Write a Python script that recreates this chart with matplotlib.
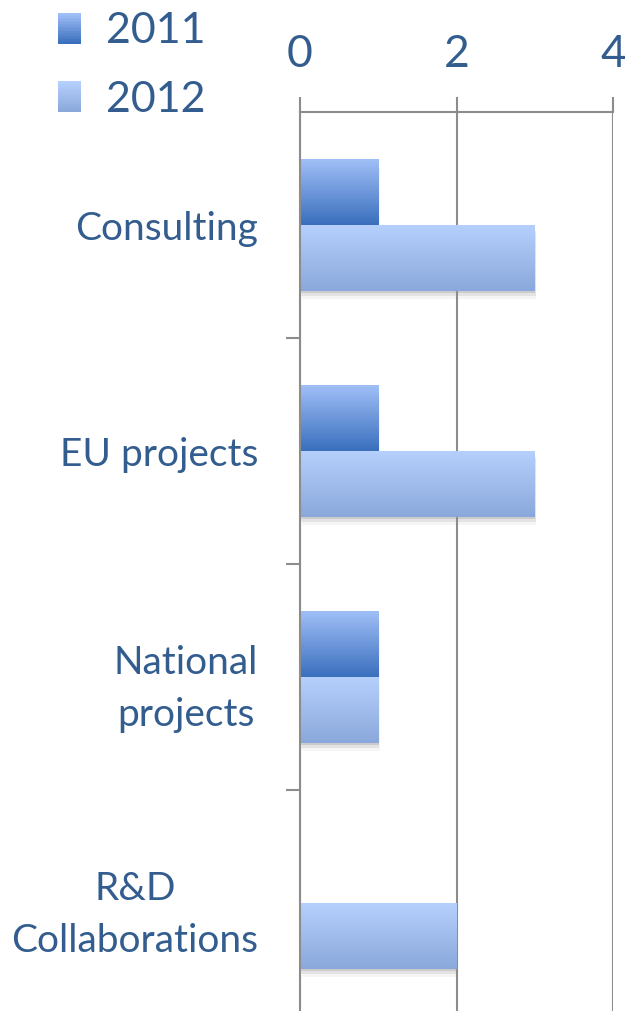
import numpy as np
import matplotlib
matplotlib.use('Agg')
import matplotlib.pyplot as plt
from matplotlib.colors import LinearSegmentedColormap
from matplotlib.patches import Rectangle
from matplotlib.legend_handler import HandlerBase

plt.rcParams['font.family'] = ['Lato', 'DejaVu Sans']

# data
categories = ['Consulting', 'EU projects', 'National\nprojects', 'R&D\nCollaborations']
values_2011 = [1, 1, 1, 0]
values_2012 = [3, 3, 1, 2]
series_names = ['2011', '2012']

text_color = '#335d8f'
grid_color = '#8c8c8c'
# gradient top -> bottom
grad_2011 = ['#a0bff7', '#3a6fbd']
grad_2012 = ['#b6d0fd', '#8aa8db']

fig = plt.figure(figsize=(6.25, 10.11), dpi=100)
ax = fig.add_axes([0.48, -0.005, 0.5008, 0.894])

y = np.arange(len(categories))
h = 0.29

bars_11 = ax.barh(y - h / 2, values_2011, height=h, color='none', edgecolor='none')
bars_12 = ax.barh(y + h / 2, values_2012, height=h, color='none', edgecolor='none')


def fill_gradient(bars, colors):
    cmap = LinearSegmentedColormap.from_list('g', colors)
    grad = np.linspace(0, 1, 256).reshape(-1, 1)
    for b in bars:
        x0, y0 = b.get_x(), b.get_y()
        w, hh = b.get_width(), b.get_height()
        if w <= 0:
            continue
        # soft shadow
        for k, a in enumerate([0.10, 0.07, 0.04]):
            d = 0.012 * (k + 1)
            ax.add_patch(Rectangle((x0 + d * 0.6, y0 + d), w, hh, color='black',
                                   alpha=a, lw=0, zorder=1))
        # y axis is inverted: top of bar is y0, bottom y0+hh
        ax.imshow(grad, extent=[x0, x0 + w, y0 + hh, y0], cmap=cmap,
                  aspect='auto', zorder=2, origin='upper')


fill_gradient(bars_11, grad_2011)
fill_gradient(bars_12, grad_2012)

ax.set_xlim(0, 4)
ax.set_ylim(3.5, -0.5)

ax.xaxis.tick_top()
ax.set_xticks([0, 2, 4])
ax.tick_params(axis='x', direction='out', length=11, width=1.5, color=grid_color,
               labelsize=32, labelcolor=text_color, pad=16)
ax.grid(axis='x', color=grid_color, lw=1.5, zorder=0)

ax.set_yticks(y)
ax.set_yticklabels(categories)
ax.set_yticks([0.5, 1.5, 2.5], minor=True)
ax.tick_params(axis='y', which='major', length=0, labelsize=28,
               labelcolor=text_color, pad=30)
ax.tick_params(axis='y', which='minor', direction='out', length=10, width=1.5,
               color=grid_color)
for lab in ax.get_yticklabels():
    lab.set_multialignment('center')
    lab.set_linespacing(1.55)

for s in ['right', 'bottom']:
    ax.spines[s].set_visible(False)
for s in ['left', 'top']:
    ax.spines[s].set_color(grid_color)
    ax.spines[s].set_linewidth(1.5)


# legend with gradient squares
class GradientHandler(HandlerBase):
    def __init__(self, colors):
        super().__init__()
        self.cmap = LinearSegmentedColormap.from_list('lg', colors)

    def create_artists(self, legend, orig_handle, xdescent, ydescent, width, height,
                       fontsize, trans):
        n = 20
        out = []
        for i in range(n):
            # i=0 is bottom strip
            c = self.cmap(1 - i / (n - 1))
            r = Rectangle((-xdescent, -ydescent + height * i / n), width, height / n + 0.3,
                          facecolor=c, lw=0, transform=trans)
            out.append(r)
        return out


h11 = Rectangle((0, 0), 1, 1)
h12 = Rectangle((0, 0), 1, 1)
fig.legend([h11, h12], series_names, loc='upper left', bbox_to_anchor=(0.03, 1.026),
           frameon=False, fontsize=31, labelcolor=text_color, handlelength=0.55,
           handleheight=0.72, handletextpad=0.58, labelspacing=0.7,
           handler_map={h11: GradientHandler(grad_2011), h12: GradientHandler(grad_2012)})

fig.savefig('out.png', dpi=100)
